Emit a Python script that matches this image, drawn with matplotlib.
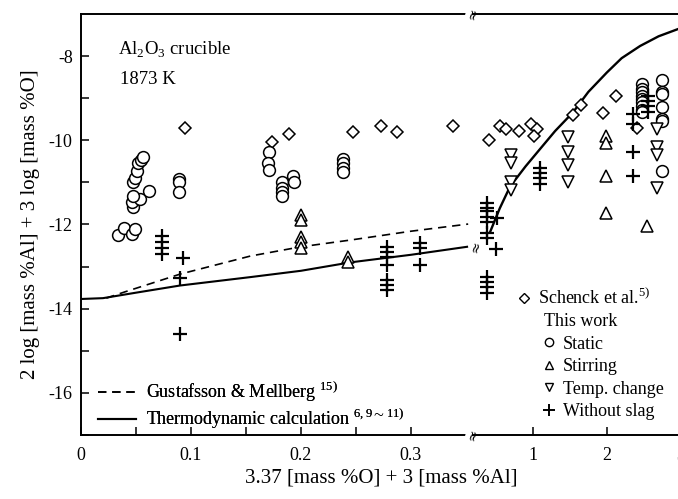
import matplotlib
matplotlib.use("Agg")
import matplotlib.pyplot as plt
from matplotlib.lines import Line2D
import numpy as np

plt.rcParams['font.family'] = ['Liberation Serif', 'DejaVu Serif']
plt.rcParams['mathtext.fontset'] = 'custom'
plt.rcParams['mathtext.rm'] = 'Liberation Serif'
plt.rcParams['axes.unicode_minus'] = False

# x = 3.37[%O] + 3[%Al],  y = 2 log[%Al] + 3 log[%O]
# Schenck et al.
schenck_x = [0.095, 0.174, 0.189, 0.247, 0.273, 0.287, 0.338, 0.405, 0.554, 0.635,
             0.81, 0.97, 1.05, 1.01, 1.54, 1.65, 1.95, 2.12, 2.41]
schenck_y = [-9.72, -10.03, -9.84, -9.81, -9.65, -9.81, -9.67, -10.0, -9.67, -9.74,
             -9.79, -9.62, -9.74, -9.9, -9.41, -9.17, -9.36, -8.95, -9.7]

# this work: static
static_x = [0.034, 0.039, 0.046, 0.049, 0.047, 0.046, 0.054, 0.047, 0.047, 0.049,
            0.051, 0.052, 0.055, 0.056, 0.062,
            0.089, 0.089, 0.089,
            0.171, 0.170, 0.171, 0.183, 0.183, 0.183, 0.183, 0.193, 0.194,
            0.238, 0.238, 0.238, 0.238,
            2.47, 2.47, 2.47, 2.47, 2.47, 2.47, 2.47, 2.47, 2.47,
            2.74, 2.74, 2.74, 2.74, 2.74, 2.74, 2.74]
static_y = [-12.25, -12.08, -12.22, -12.1, -11.58, -11.46, -11.39, -11.33, -11.0, -10.89,
            -10.74, -10.53, -10.46, -10.39, -11.2,
            -10.92, -11.0, -11.22,
            -10.29, -10.53, -10.7, -11.0, -11.13, -11.24, -11.33, -10.84, -11.0,
            -10.45, -10.55, -10.65, -10.75,
            -8.67, -8.79, -8.86, -8.96, -9.03, -9.1, -9.19, -9.27, -9.34,
            -8.57, -8.86, -8.91, -9.22, -9.5, -9.55, -10.74]

# this work: stirring
stir_x = [0.2, 0.2, 0.2, 0.2, 0.2, 0.243, 0.243, 1.99, 1.99, 1.99, 1.99, 2.54]
stir_y = [-11.77, -11.89, -12.3, -12.42, -12.56, -12.77, -12.89,
          -9.9, -10.07, -10.84, -11.72, -12.03]

# this work: temperature change
temp_x = [0.70, 0.70, 0.70, 0.70, 1.47, 1.47, 1.47, 1.47, 2.68, 2.68, 2.68, 2.68]
temp_y = [-10.34, -10.53, -11.0, -11.17, -9.93, -10.27, -10.58, -10.98,
          -9.74, -10.17, -10.34, -11.13]

# this work: without slag
noslag_x = [0.074, 0.074, 0.074, 0.074, 0.093, 0.09, 0.09,
            0.278, 0.278, 0.278, 0.278, 0.278, 0.278, 0.278,
            0.308, 0.308, 0.308,
            0.38, 0.38, 0.38, 0.38, 0.38, 0.38, 0.38, 0.51, 0.50,
            0.38, 0.38, 0.38, 0.38,
            1.09, 1.09, 1.09, 1.09,
            2.35, 2.35, 2.35, 2.35,
            2.55, 2.55, 2.55, 2.55]
noslag_y = [-12.27, -12.42, -12.56, -12.7, -12.8, -13.28, -14.59,
            -12.53, -12.65, -12.77, -12.96, -13.32, -13.44, -13.56,
            -12.44, -12.56, -12.96,
            -11.48, -11.6, -11.69, -11.82, -11.94, -12.2, -12.32, -11.84, -12.58,
            -13.25, -13.37, -13.49, -13.63,
            -10.65, -10.77, -10.89, -11.05,
            -9.38, -9.62, -10.27, -10.86,
            -8.95, -9.07, -9.19, -9.34]

# Gustafsson & Mellberg
gm_x = [0.023, 0.04, 0.09, 0.154, 0.2, 0.245, 0.3, 0.352]
gm_y = [-13.75, -13.6, -13.18, -12.75, -12.53, -12.37, -12.16, -11.99]

# thermodynamic calculation
calc_x = [0.0, 0.02, 0.05, 0.09, 0.154, 0.2, 0.245, 0.3, 0.351,
          0.42, 0.55, 0.69, 0.9, 1.09, 1.3, 1.54, 1.75, 2.0, 2.2, 2.45, 2.7, 2.96]
calc_y = [-13.77, -13.75, -13.62, -13.45, -13.25, -13.1, -12.9, -12.72, -12.53,
          -12.18, -11.62, -11.1, -10.62, -10.22, -9.78, -9.34, -8.85, -8.39, -8.05,
          -7.76, -7.53, -7.36]

XBREAK = 0.3564

fig = plt.figure(figsize=(6.78, 4.99), dpi=100)
bot, hgt = 0.1283, 0.8437
axl = fig.add_axes([81/678, bot, 392/678, hgt])
axr = fig.add_axes([473/678, bot, 210/678, hgt])
axr.patch.set_visible(False)

axl.set_xlim(0, XBREAK)
axr.set_xlim(0.189, 3.03)
for ax in (axl, axr):
    ax.set_ylim(-17, -7)
    for s in ax.spines.values():
        s.set_linewidth(1.4)
axl.spines['right'].set_visible(False)
axr.spines['left'].set_visible(False)
axr.spines['right'].set_visible(False)

axl.set_xticks([0, 0.1, 0.2, 0.3])
axl.set_xticklabels(['0', '0.1', '0.2', '0.3'])
axl.set_xticks([0.05, 0.15, 0.25], minor=True)
axl.set_yticks([-16, -14, -12, -10, -8])
axl.set_yticks([-17, -15, -13, -11, -9], minor=True)
axl.tick_params(axis='both', which='both', direction='in', labelsize=13,
                top=False, right=False, width=1.1)
axl.tick_params(which='major', length=6)
axl.tick_params(which='minor', length=6)
axl.tick_params(axis='x', pad=9)
axl.tick_params(axis='y', pad=6)
axr.set_xticks([1, 2, 3])
axr.set_yticks([])
axr.tick_params(axis='x', direction='in', labelsize=13, length=6, width=1.1, pad=9)


def split(xs, ys):
    xs = np.asarray(xs)
    ys = np.asarray(ys)
    m = xs <= XBREAK
    return (xs[m], ys[m]), (xs[~m], ys[~m])


styles = [
    (schenck_x, schenck_y, dict(marker='D', ms=6.5)),
    (static_x, static_y, dict(marker='o', ms=8.5)),
    (stir_x, stir_y, dict(marker='^', ms=8)),
    (temp_x, temp_y, dict(marker='v', ms=8)),
]
for xs, ys, kw in styles:
    for ax, (px, py) in zip((axl, axr), split(xs, ys)):
        ax.plot(px, py, ls='none', mfc='white', mec='black', mew=1.1,
                clip_on=False, zorder=3, **kw)
for ax, (px, py) in zip((axl, axr), split(noslag_x, noslag_y)):
    ax.plot(px, py, ls='none', marker='+', ms=10, mec='black', mew=1.6,
            clip_on=False, zorder=4)

axl.plot(gm_x, gm_y, color='black', ls=(0, (5, 3.5)), lw=1.2)
(lx, ly), (rx, ry) = split(calc_x, calc_y)
axl.plot(lx, ly, color='black', lw=1.5)
axr.plot(rx, ry, color='black', lw=1.7)

# axis break marks
brk = dict(rotation=75, fontsize=10, ha='center', va='center', zorder=6,
           fontfamily='DejaVu Sans', clip_on=False)
for yy in (0, 1):
    axl.text(1.0, yy, '≈', transform=axl.transAxes,
             bbox=dict(fc='white', ec='none', pad=0.3), **brk)
axl.text(XBREAK + 0.003, ly[-1], '≈', **brk)

axl.text(0.095, 0.915, 'Al$_\\mathrm{2}$O$_\\mathrm{3}$ crucible', transform=axl.transAxes,
         fontsize=13.5, va='center')
axl.text(0.1, 0.845, '1873 K', transform=axl.transAxes, fontsize=13.5,
         va='center')

lg_handles = [Line2D([], [], color='black', ls=(0, (5, 3.5)), lw=1.2),
              Line2D([], [], color='black', lw=1.5)]
lg1 = axl.legend(lg_handles,
                 ['Gustafsson & Mellberg $^{\\mathrm{15)}}$',
                  'Thermodynamic calculation $^{\\mathrm{6,9\\sim11)}}$'],
                 loc='lower left', bbox_to_anchor=(0.035, 0.0), frameon=False,
                 fontsize=13, handlelength=2.1, handletextpad=0.55,
                 labelspacing=0.15, borderpad=0.2, borderaxespad=0)
axl.add_artist(lg1)

mk = dict(ls='none', mfc='white', mec='black', mew=1.0)
lg2 = fig.legend([Line2D([], [], marker='D', ms=5, **mk)],
                 ['Schenck et al.$^{\\mathrm{5)}}$'],
                 loc='upper left', bbox_to_anchor=(0.765, 0.424), frameon=False,
                 fontsize=13, handlelength=0.6, handletextpad=0.45,
                 borderpad=0, borderaxespad=0)
lg3 = fig.legend([Line2D([], [], marker='o', ms=6, **mk),
                  Line2D([], [], marker='^', ms=6, **mk),
                  Line2D([], [], marker='v', ms=6, **mk),
                  Line2D([], [], marker='+', ms=8, ls='none', mec='black', mew=1.4)],
                 ['Static', 'Stirring', 'Temp. change', 'Without slag'],
                 loc='upper left', bbox_to_anchor=(0.802, 0.372), frameon=False,
                 fontsize=13, handlelength=0.6, handletextpad=0.45,
                 labelspacing=0.3, borderpad=0, borderaxespad=0,
                 title='This work', title_fontsize=13, alignment='left')

axl.set_ylabel('2 log [mass %Al] + 3 log [mass %O]', fontsize=15, labelpad=6)
fig.text(0.562, 0.042, '3.37 [mass %O] + 3 [mass %Al]', fontsize=15,
         ha='center', va='center')

fig.savefig('out.png', dpi=100)
